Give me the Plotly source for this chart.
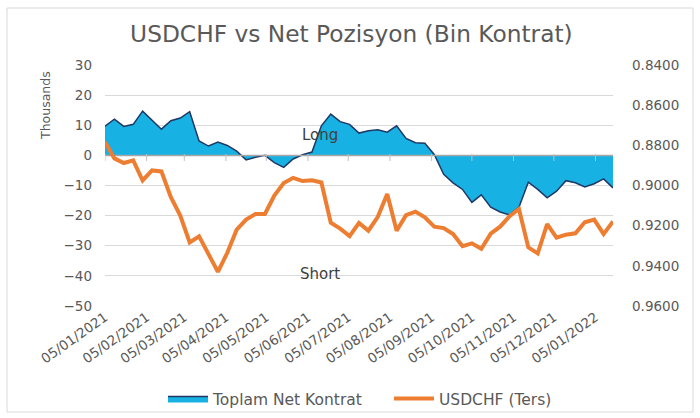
import plotly.graph_objects as go
import pandas as pd

# ---- data ----
week_start = "2021-01-05"
n_weeks = 55
net_kontrat = [9.7, 12.0, 9.6, 10.3, 14.7, 11.7, 8.7, 11.5, 12.4, 14.5,
               4.8, 3.1, 4.4, 3.3, 1.4, -1.5, -0.6, 0.0, -2.4, -4.0,
               -1.2, 0.2, 1.1, 9.8, 13.7, 11.2, 10.3, 7.4, 8.2, 8.5,
               7.7, 9.8, 5.6, 4.2, 4.0, 0.3, -6.3, -9.1, -11.3, -15.6,
               -13.1, -17.2, -18.8, -19.8, -17.2, -8.9, -11.3, -14.1, -11.9, -8.4,
               -9.1, -10.5, -9.4, -7.8, -10.8]
usdchf = [0.8784, 0.8865, 0.8888, 0.8875, 0.8975, 0.8925, 0.8930, 0.9058, 0.9150, 0.9283,
          0.9253, 0.9342, 0.9430, 0.9335, 0.9220, 0.9170, 0.9142, 0.9142, 0.9050, 0.8988,
          0.8962, 0.8978, 0.8974, 0.8985, 0.9185, 0.9215, 0.9252, 0.9186, 0.9225, 0.9156,
          0.9042, 0.9225, 0.9148, 0.9130, 0.9158, 0.9205, 0.9212, 0.9242, 0.9302, 0.9288,
          0.9315, 0.9240, 0.9205, 0.9153, 0.9117, 0.9308, 0.9338, 0.9192, 0.9260, 0.9245,
          0.9238, 0.9183, 0.9170, 0.9242, 0.9179]
tick_dates = ["2021-01-05", "2021-02-05", "2021-03-05", "2021-04-05", "2021-05-05",
              "2021-06-05", "2021-07-05", "2021-08-05", "2021-09-05", "2021-10-05",
              "2021-11-05", "2021-12-05", "2022-01-05"]
tick_labels = ["05/01/2021", "05/02/2021", "05/03/2021", "05/04/2021", "05/05/2021",
               "05/06/2021", "05/07/2021", "05/08/2021", "05/09/2021", "05/10/2021",
               "05/11/2021", "05/12/2021", "05/01/2022"]
left_ticks = [30, 20, 10, 0, -10, -20, -30, -40, -50]
right_ticks = [0.84, 0.86, 0.88, 0.90, 0.92, 0.94, 0.96]
series_names = ["Toplam Net Kontrat", "USDCHF (Ters)"]
title_text = "USDCHF vs Net Pozisyon (Bin Kontrat)"

dates = pd.date_range(week_start, periods=n_weeks, freq="7D")

FONT = "DejaVu Sans"
GRAY = "#595959"

fig = go.Figure()

fig.add_trace(go.Scatter(
    x=dates, y=net_kontrat, name=series_names[0], mode="lines",
    fill="tozeroy", fillcolor="#17B2E3",
    line=dict(color="#1F3864", width=1.5),
    yaxis="y", legend="legend", hoverinfo="skip"))

# zero line and month tick marks above the area
fig.add_trace(go.Scatter(
    x=[dates[0], dates[-1]], y=[0, 0], mode="lines",
    line=dict(color="#A6A6A6", width=1.5), showlegend=False, hoverinfo="skip"))
fig.add_trace(go.Scatter(
    x=tick_dates, y=[-0.7] * len(tick_dates), mode="markers",
    marker=dict(symbol="line-ns", size=5, line=dict(color="#BFBFBF", width=1)),
    showlegend=False, hoverinfo="skip"))

fig.add_trace(go.Scatter(
    x=dates, y=usdchf, name=series_names[1], mode="lines",
    line=dict(color="#ED7D31", width=4),
    yaxis="y2", legend="legend2", hoverinfo="skip"))

legend_common = dict(orientation="h", xref="container", yref="container",
                     xanchor="left", y=1 - 399 / 418, yanchor="middle",
                     itemwidth=40, font=dict(size=15.5, color=GRAY),
                     bgcolor="rgba(0,0,0,0)")

fig.update_layout(
    width=700, height=418, autosize=False,
    margin=dict(l=105, r=87, t=65, b=112, autoexpand=False),
    paper_bgcolor="white", plot_bgcolor="white",
    font=dict(family=FONT, color=GRAY, size=13.5),
    title=dict(text=title_text, x=0.502, y=1 - 34 / 418, xanchor="center", yanchor="middle",
               xref="container", yref="container",
               font=dict(family=FONT, size=23.3, color=GRAY)),
    xaxis=dict(range=[dates[0], dates[-1]], tickvals=tick_dates, ticktext=tick_labels,
               tickangle=-35, showgrid=False, showline=False, zeroline=False, ticks="",
               automargin=False, tickfont=dict(size=13.5, color=GRAY)),
    yaxis=dict(range=[-50, 30], tickvals=left_ticks, showgrid=True, gridcolor="#D9D9D9",
               gridwidth=1, zeroline=False, showline=False, ticks="", ticklabelstandoff=12,
               automargin=False, tickfont=dict(size=13.5, color=GRAY)),
    yaxis2=dict(range=[0.96, 0.84], tickvals=right_ticks, tickformat=".4f", overlaying="y",
                side="right", showgrid=False, zeroline=False, showline=False, ticks="",
                ticklabelstandoff=18, automargin=False, tickfont=dict(size=13.5, color=GRAY)),
    legend=dict(x=163 / 700, **legend_common),
    legend2=dict(x=389 / 700, **legend_common),
    showlegend=True,
)

fig.add_annotation(text="Thousands", xref="paper", yref="paper", x=(46 - 105) / 508,
                   y=(306 - 106) / 241, xanchor="center", yanchor="middle",
                   textangle=-90, showarrow=False, font=dict(size=12.5, color=GRAY))
fig.add_annotation(text="Long", xref="x", yref="y", x="2021-06-14", y=6.7,
                   showarrow=False, font=dict(size=15, color="#404040"))
fig.add_annotation(text="Short", xref="x", yref="y", x="2021-06-14", y=-39.3,
                   showarrow=False, font=dict(size=15, color="#404040"))

fig.add_shape(type="rect", xref="paper", yref="paper",
              x0=(7 - 105) / 508, x1=(693 - 105) / 508,
              y0=(306 - 412) / 241, y1=(306 - 8) / 241,
              line=dict(color="#D9D9D9", width=1), fillcolor="rgba(0,0,0,0)", layer="below")

fig.write_html("out.html", config={"displayModeBar": False},
               post_script="document.body.style.margin='0px';")
